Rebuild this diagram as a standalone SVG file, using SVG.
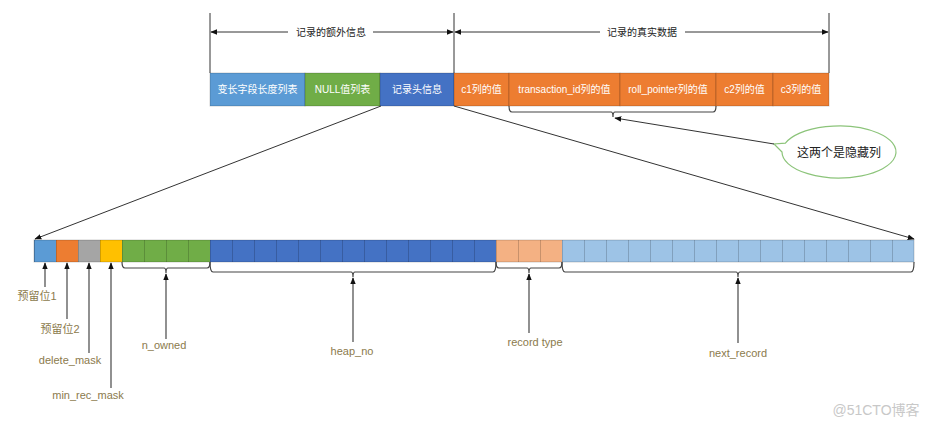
<svg xmlns="http://www.w3.org/2000/svg" width="933" height="427" viewBox="0 0 933 427">
<style>
text{font-family:"Liberation Sans","Noto Sans CJK SC",sans-serif}
.bt{font-size:10px;fill:#fff;text-anchor:middle;dominant-baseline:central}
.hd{font-size:10px;fill:#222;text-anchor:middle;dominant-baseline:central}
.lb{font-size:11px;fill:#8b7a4c;text-anchor:middle;dominant-baseline:central}
.c{stroke:#000;stroke-opacity:0.18;stroke-width:1}
.ln{stroke:#333;stroke-width:1;fill:none}
.ar{stroke:#555;stroke-width:1.3;fill:none}
.br{stroke:#444;stroke-width:1.2;fill:none}
</style>
<defs>
<marker id="ah" viewBox="0 0 10 10" refX="9" refY="5" markerWidth="7" markerHeight="7" markerUnits="userSpaceOnUse" orient="auto-start-reverse">
<path d="M0,1 L10,5 L0,9 z" fill="#111"/>
</marker>
<pattern id="cell" x="34" y="240" width="22" height="22" patternUnits="userSpaceOnUse">
<path d="M0.5,0 V22" stroke="#000" stroke-opacity="0.18" fill="none"/>
</pattern>
</defs>
<rect width="933" height="427" fill="#fff"/>

<g id="dimensions">
<line class="ln" x1="210" y1="13" x2="210" y2="73"/>
<line class="ln" x1="454" y1="13" x2="454" y2="73"/>
<line class="ln" x1="829" y1="13" x2="829" y2="73"/>
<line class="ln" x1="211" y1="32" x2="288" y2="32" marker-start="url(#ah)"/>
<line class="ln" x1="373" y1="32" x2="453" y2="32" marker-end="url(#ah)"/>
<text class="hd" x="331" y="32">记录的额外信息</text>
<line class="ln" x1="455" y1="32" x2="600" y2="32" marker-start="url(#ah)"/>
<line class="ln" x1="685" y1="32" x2="828" y2="32" marker-end="url(#ah)"/>
<text class="hd" x="642" y="32">记录的真实数据</text>
</g>

<g id="record-top">
<g id="n-varlen"><rect x="210" y="73" width="95" height="33" fill="#5b9bd5" class="c"/><text class="bt" x="257.5" y="89.5">变长字段长度列表</text></g>
<g id="n-null"><rect x="305" y="73" width="75" height="33" fill="#70ad47" class="c"/><text class="bt" x="342.5" y="89.5">NULL值列表</text></g>
<g id="n-header"><rect x="380" y="73" width="74" height="33" fill="#4472c4" class="c"/><text class="bt" x="417" y="89.5">记录头信息</text></g>
<g id="n-c1"><rect x="454" y="73" width="55" height="33" fill="#ed7d31" class="c"/><text class="bt" x="481.5" y="89.5">c1列的值</text></g>
<g id="n-trx"><rect x="509" y="73" width="111" height="33" fill="#ed7d31" class="c"/><text class="bt" x="564.5" y="89.5">transaction_id列的值</text></g>
<g id="n-roll"><rect x="620" y="73" width="96" height="33" fill="#ed7d31" class="c"/><text class="bt" x="668" y="89.5">roll_pointer列的值</text></g>
<g id="n-c2"><rect x="716" y="73" width="57" height="33" fill="#ed7d31" class="c"/><text class="bt" x="744.5" y="89.5">c2列的值</text></g>
<g id="n-c3"><rect x="773" y="73" width="56" height="33" fill="#ed7d31" class="c"/><text class="bt" x="801" y="89.5">c3列的值</text></g>
</g>

<g id="callout">
<path d="M782,152 L774,144 L785.4,143.1 A57,26 0 1 1 782,152 Z" fill="#fff" stroke="#8cc47a" stroke-width="1.2"/>
<text x="839" y="153" style="font-size:12px;fill:#222;text-anchor:middle;dominant-baseline:central">这两个是隐藏列</text>
</g>

<g id="bits">
<rect x="34" y="240" width="22" height="22" fill="#5b9bd5"/>
<rect x="56" y="240" width="22" height="22" fill="#ed7d31"/>
<rect x="78" y="240" width="22" height="22" fill="#a5a5a5"/>
<rect x="100" y="240" width="22" height="22" fill="#ffc000"/>
<rect x="122" y="240" width="88" height="22" fill="#70ad47"/>
<rect x="210" y="240" width="286" height="22" fill="#4472c4"/>
<rect x="496" y="240" width="66" height="22" fill="#f4b183"/>
<rect x="562" y="240" width="352" height="22" fill="#9dc3e6"/>
<rect x="34" y="240" width="880" height="22" fill="url(#cell)"/>
<rect x="34" y="240" width="880" height="22" fill="none" stroke="#000" stroke-opacity="0.18"/>
</g>

<g id="connectors">
<path class="br" d="M509,106 Q509,112 512,112 L611,112 Q613,112 613,117 Q613,112 615,112 L713,112 Q716,112 716,106"/>
<line class="ln" x1="774" y1="144" x2="615" y2="118" marker-end="url(#ah)"/>
<line class="ln" x1="381" y1="106" x2="35" y2="239" marker-end="url(#ah)"/>
<line class="ln" x1="454" y1="106" x2="914" y2="239" marker-end="url(#ah)"/>

<path class="br" d="M122,262 Q122,268 125,268 L164,268 Q166,268 166,273 Q166,268 168,268 L207,268 Q210,268 210,262"/>
<path class="br" d="M210,262 Q210,272 213,272 L351,272 Q353,272 353,277 Q353,272 355,272 L493,272 Q496,272 496,262"/>
<path class="br" d="M496,262 Q496,268 499,268 L527,268 Q529,268 529,273 Q529,268 531,268 L559,268 Q562,268 562,262"/>
<path class="br" d="M562,262 Q562,272 565,272 L736,272 Q738,272 738,277 Q738,272 740,272 L911,272 Q914,272 914,262"/>

<line class="ar" x1="45" y1="287" x2="45" y2="263" marker-end="url(#ah)"/>
<line class="ar" x1="67" y1="319" x2="67" y2="263" marker-end="url(#ah)"/>
<line class="ar" x1="89" y1="353" x2="89" y2="263" marker-end="url(#ah)"/>
<line class="ar" x1="111" y1="388" x2="111" y2="263" marker-end="url(#ah)"/>
<line class="ar" x1="166" y1="339" x2="166" y2="274" marker-end="url(#ah)"/>
<line class="ar" x1="353" y1="342" x2="353" y2="278" marker-end="url(#ah)"/>
<line class="ar" x1="529" y1="333" x2="529" y2="274" marker-end="url(#ah)"/>
<line class="ar" x1="738" y1="343" x2="738" y2="278" marker-end="url(#ah)"/>
</g>

<g id="labels">
<text class="lb" x="37" y="296">预留位1</text>
<text class="lb" x="60" y="329">预留位2</text>
<text class="lb" x="70" y="360">delete_mask</text>
<text class="lb" x="88" y="395">min_rec_mask</text>
<text class="lb" x="164" y="345">n_owned</text>
<text class="lb" x="352" y="351">heap_no</text>
<text class="lb" x="535" y="342">record type</text>
<text class="lb" x="738" y="353">next_record</text>
</g>

<text x="876" y="410" style="font-size:14px;fill:#c8c8c8;text-anchor:middle;dominant-baseline:central">@51CTO博客</text>
</svg>
